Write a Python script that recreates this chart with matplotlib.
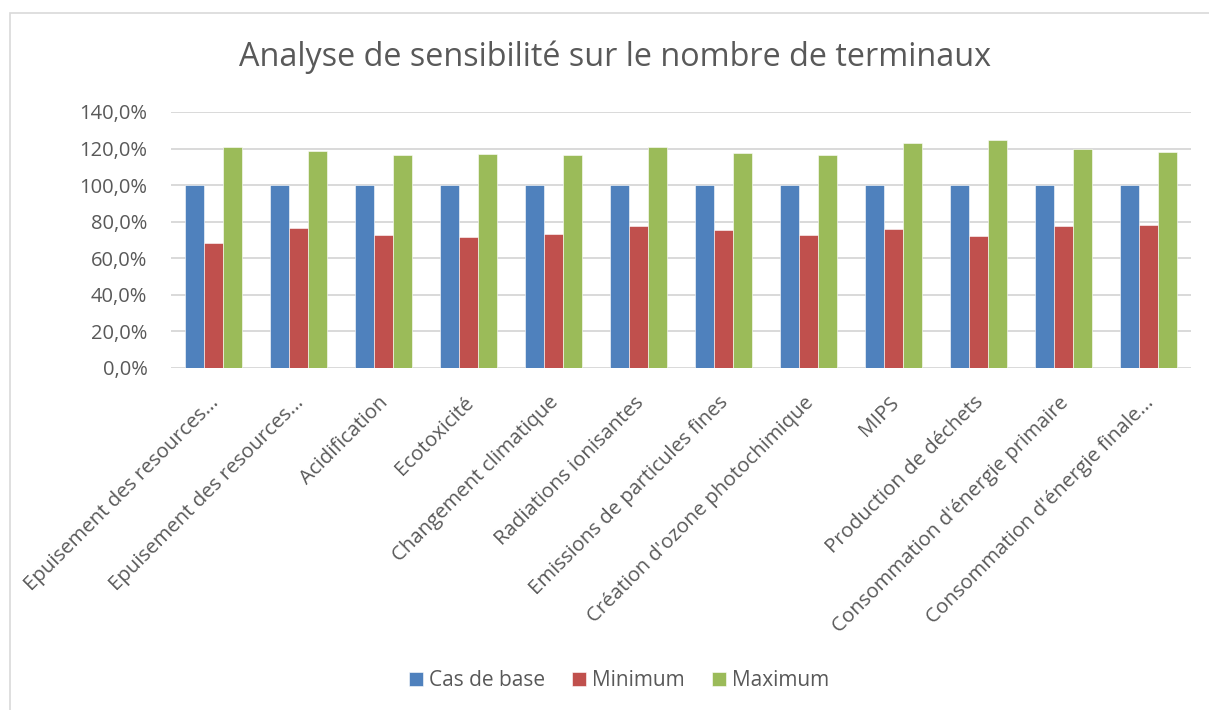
import matplotlib.pyplot as plt
import matplotlib.transforms as mtransforms
import numpy as np
from matplotlib.ticker import FuncFormatter

categories = ["Epuisement des resources...", "Epuisement des resources...", "Acidification",
              "Ecotoxicité", "Changement climatique", "Radiations ionisantes",
              "Emissions de particules fines", "Création d'ozone photochimique", "MIPS",
              "Production de déchets", "Consommation d'énergie primaire",
              "Consommation d'énergie finale..."]
cas_de_base = [100, 100, 100, 100, 100, 100, 100, 100, 100, 100, 100, 100]
minimum = [68.4, 76.6, 72.6, 71.7, 73.4, 77.6, 75.5, 72.8, 76.1, 72.3, 77.7, 78.1]
maximum = [120.6, 118.4, 116.4, 116.8, 116.6, 120.6, 117.7, 116.4, 123.0, 124.6, 119.5, 118.3]
series = ["Cas de base", "Minimum", "Maximum"]
colors = ["#4F81BD", "#C0504D", "#9BBB59"]

plt.rcParams['font.family'] = ['Open Sans', 'DejaVu Sans']
txt = '#595959'

fig = plt.figure(figsize=(12.09, 7.10), dpi=100)
ax = fig.add_axes([171/1209, (710-368)/710, (1191-171)/1209, (368-112)/710])

# cadre du graphique
fig.patches.append(plt.Rectangle((10/1209, -0.01), 1.02, (710-13)/710 + 0.01,
                                 transform=fig.transFigure, fill=False,
                                 edgecolor='#D9D9D9', linewidth=1.2))

x = np.arange(len(categories))
w = 0.22
for i, (vals, c, name) in enumerate(zip([cas_de_base, minimum, maximum], colors, series)):
    ax.bar(x + (i - 1) * w, vals, w, color=c, label=name, edgecolor='white',
           linewidth=0.4, zorder=3)

ax.set_xlim(-0.5, len(categories) - 0.5)
ax.set_ylim(0, 140)
ax.set_yticks(np.arange(0, 141, 20))
ax.yaxis.set_major_formatter(FuncFormatter(lambda v, p: f"{v:.1f}%".replace('.', ',')))
ax.grid(axis='y', color='#D9D9D9', linewidth=1.4, zorder=0)
for s in ax.spines.values():
    s.set_visible(False)
ax.tick_params(axis='both', length=0, colors=txt)
ax.tick_params(axis='y', pad=17, labelsize=14.5)
ax.tick_params(axis='x', pad=12, labelsize=14.7)
ax.set_xticks(x)
ax.set_xticklabels(categories, rotation=45, ha='right', rotation_mode='anchor', color=txt)
# petit décalage des libellés (vers le bas et la gauche)
offset = mtransforms.ScaledTranslation(-5/100, -8/100, fig.dpi_scale_trans)
for lab in ax.get_xticklabels():
    lab.set_transform(lab.get_transform() + offset)

fig.text(615/1209, 1 - 57/710, "Analyse de sensibilité sur le nombre de terminaux",
         ha='center', va='center', fontsize=23.3, color=txt)

fig.legend(loc='center', bbox_to_anchor=(619/1209, 1 - 681/710), ncol=3, frameon=False,
           fontsize=15, labelcolor=txt, handlelength=0.67, handleheight=0.67,
           handletextpad=0.3, columnspacing=1.3)

fig.savefig('out.png', dpi=100)
